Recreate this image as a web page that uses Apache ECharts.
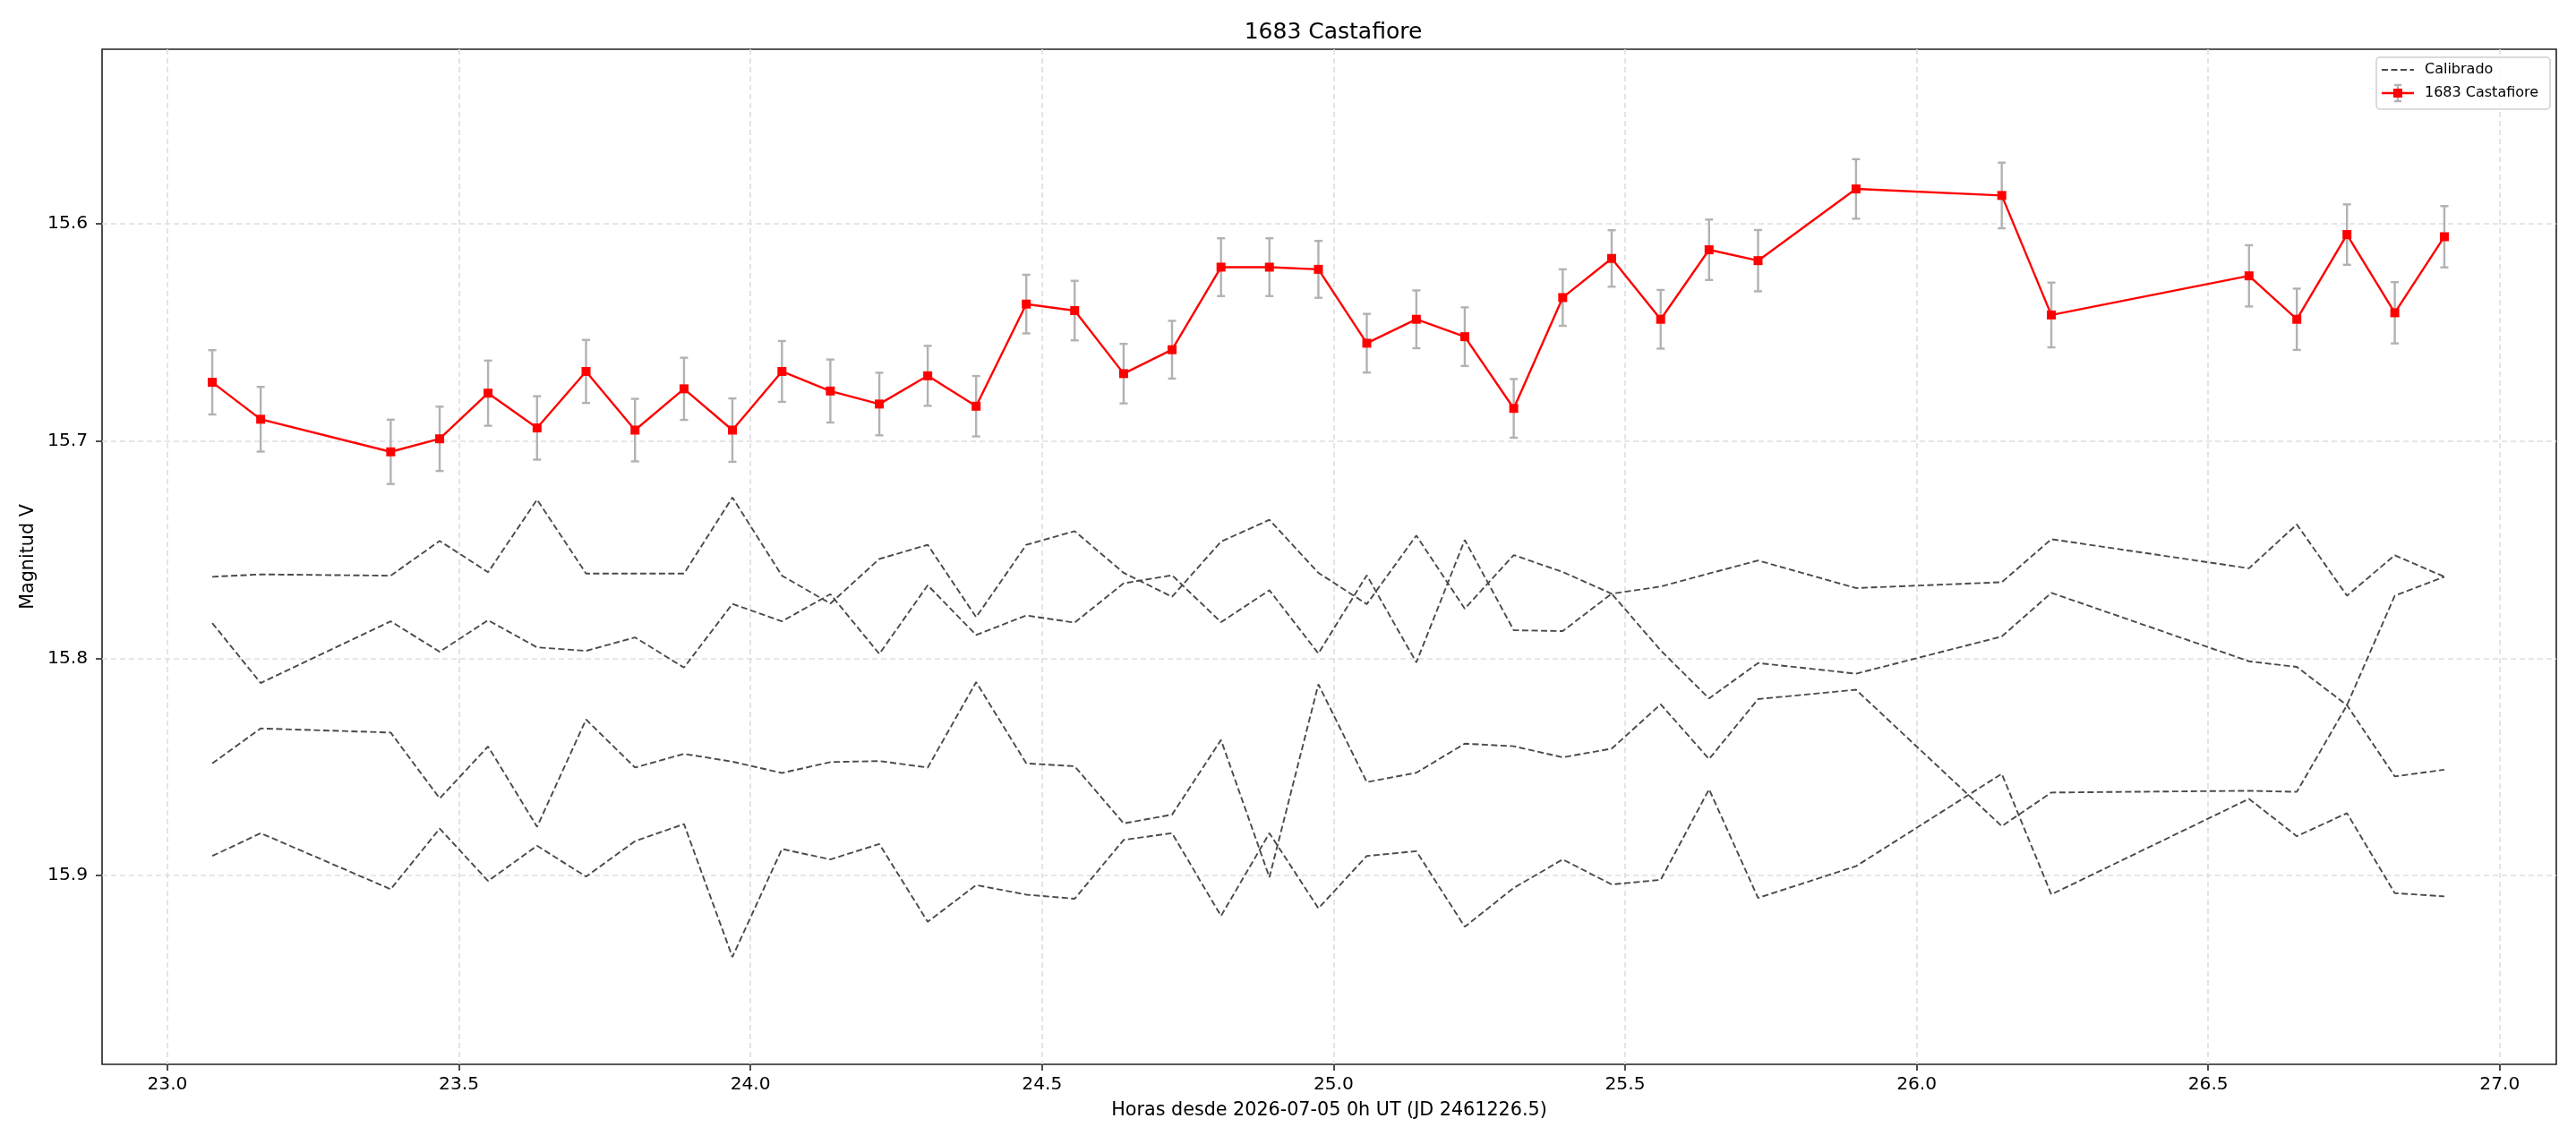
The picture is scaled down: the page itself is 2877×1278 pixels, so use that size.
<!DOCTYPE html>
<html>
<head>
<meta charset="utf-8">
<title>1683 Castafiore</title>
<script src="https://cdn.jsdelivr.net/npm/echarts@6/dist/echarts.min.js"></script>
<style>
  html, body { margin: 0; padding: 0; background: #fff; }
  #chart { width: 2877px; height: 1278px; }
</style>
</head>
<body>
<div id="chart"></div>
<script>
// hours since 2026-07-05 0h UT
const hours = [23.077, 23.160, 23.383, 23.467, 23.550, 23.634, 23.718, 23.802, 23.886, 23.969,
  24.054, 24.137, 24.221, 24.304, 24.387, 24.473, 24.556, 24.640, 24.723, 24.807,
  24.890, 24.974, 25.057, 25.142, 25.225, 25.309, 25.393, 25.477, 25.561, 25.644,
  25.728, 25.896, 26.146, 26.231, 26.570, 26.652, 26.738, 26.820, 26.905]

// asteroid magnitude and 1-sigma error
const castafiore = [15.673, 15.690, 15.705, 15.699, 15.678, 15.694, 15.668, 15.695, 15.676, 15.695,
  15.668, 15.677, 15.683, 15.670, 15.684, 15.637, 15.640, 15.669, 15.658, 15.620,
  15.620, 15.621, 15.655, 15.644, 15.652, 15.685, 15.634, 15.616, 15.644, 15.612,
  15.617, 15.584, 15.587, 15.642, 15.624, 15.644, 15.605, 15.641, 15.606]
const castafioreErr = [0.0148, 0.0149, 0.0148, 0.0148, 0.0150, 0.0146, 0.0145, 0.0144, 0.0143, 0.0146,
  0.0140, 0.0145, 0.0144, 0.0138, 0.0139, 0.0135, 0.0137, 0.0137, 0.0133, 0.0133,
  0.0133, 0.0131, 0.0135, 0.0133, 0.0135, 0.0135, 0.0130, 0.0130, 0.0135, 0.0139,
  0.0141, 0.0137, 0.0151, 0.0149, 0.0141, 0.0141, 0.0139, 0.0141, 0.0141]

// comparison stars (calibrated)
const calib1 = [15.7625, 15.7614, 15.7620, 15.7460, 15.7604, 15.7270, 15.7610, 15.7610, 15.7610, 15.7260,
  15.7620, 15.7748, 15.7543, 15.7478, 15.7811, 15.7478, 15.7415, 15.7607, 15.7717, 15.7463,
  15.7363, 15.7607, 15.7751, 15.7435, 15.7772, 15.7525, 15.7603, 15.7703, 15.7670, 15.7610,
  15.7550, 15.7677, 15.7650, 15.7452, 15.7586, 15.7384, 15.7712, 15.7526, 15.7625]
const calib2 = [15.7838, 15.8114, 15.7830, 15.7970, 15.7825, 15.7950, 15.7966, 15.7904, 15.8043, 15.7750,
  15.7830, 15.7705, 15.7980, 15.7664, 15.7893, 15.7803, 15.7836, 15.7655, 15.7618, 15.7834,
  15.7687, 15.7978, 15.7618, 15.8019, 15.7456, 15.7871, 15.7875, 15.7703, 15.7964, 15.8185,
  15.8022, 15.8071, 15.7900, 15.7699, 15.8014, 15.8040, 15.8216, 15.8544, 15.8513]
const calib3 = [15.8484, 15.8323, 15.8342, 15.8645, 15.8406, 15.8776, 15.8282, 15.8503, 15.8440, 15.8476,
  15.8528, 15.8478, 15.8473, 15.8503, 15.8110, 15.8484, 15.8497, 15.8760, 15.8720, 15.8376,
  15.9008, 15.8120, 15.8570, 15.8527, 15.8393, 15.8405, 15.8456, 15.8416, 15.8212, 15.8464,
  15.8188, 15.8145, 15.8773, 15.8618, 15.8610, 15.8615, 15.8216, 15.7712, 15.7625]
const calib4 = [15.8910, 15.8805, 15.9063, 15.8784, 15.9025, 15.8863, 15.9005, 15.8842, 15.8763, 15.9375,
  15.8878, 15.8926, 15.8855, 15.9213, 15.9044, 15.9088, 15.9107, 15.8836, 15.8805, 15.9186,
  15.8805, 15.9151, 15.8910, 15.8888, 15.9236, 15.9057, 15.8926, 15.9041, 15.9020, 15.8603,
  15.9103, 15.8957, 15.8532, 15.9087, 15.8647, 15.8819, 15.8713, 15.9081, 15.9096]

const xTicks = [23.0, 23.5, 24.0, 24.5, 25.0, 25.5, 26.0, 26.5, 27.0]
const yTicks = [15.6, 15.7, 15.8, 15.9]

const FONT = 'DejaVu Sans'
const chart = echarts.init(document.getElementById('chart'))

function pairs(ys) {
  return hours.map((h, i) => [h, ys[i]])
}

// error bar with caps, drawn through the axis scales
function renderErr(params, api) {
  const x = api.value(0), y = api.value(1), e = api.value(2)
  const top = api.coord([x, y - e])
  const bot = api.coord([x, y + e])
  const cw = 4.5
  const st = { stroke: '#b2b2b2', lineWidth: 2.4 }
  return {
    type: 'group',
    children: [
      { type: 'line', shape: { x1: top[0], y1: top[1], x2: bot[0], y2: bot[1] }, style: st },
      { type: 'line', shape: { x1: top[0] - cw, y1: top[1], x2: top[0] + cw, y2: top[1] }, style: st },
      { type: 'line', shape: { x1: bot[0] - cw, y1: bot[1], x2: bot[0] + cw, y2: bot[1] }, style: st }
    ]
  }
}

const calibStyle = { color: '#4a4a4a', width: 1.9, type: [7, 3.5] }
const calibSeries = [calib1, calib2, calib3, calib4].map(c => ({
  name: 'Calibrado',
  type: 'line',
  data: pairs(c),
  symbol: 'none',
  lineStyle: calibStyle,
  itemStyle: { color: '#4a4a4a' },
  z: 2,
  silent: true
}))

// legend box drawn by hand (dashed sample, red marker with error bar)
const lgX = 2654, lgY = 64
const legendGraphic = [
  { type: 'rect', shape: { x: lgX, y: lgY, width: 194, height: 58, r: 4 },
    style: { fill: 'rgba(255,255,255,0.8)', stroke: '#d0d0d0', lineWidth: 1.5 }, z: 20 },
  { type: 'line', shape: { x1: lgX + 6, y1: lgY + 14, x2: lgX + 42, y2: lgY + 14 },
    style: { stroke: '#4a4a4a', lineWidth: 1.9, lineDash: [7, 3.5] }, z: 21 },
  { type: 'text', x: lgX + 54, y: lgY + 14,
    style: { text: 'Calibrado', font: '16px "DejaVu Sans"', fill: '#000', verticalAlign: 'middle' }, z: 21 },
  { type: 'line', shape: { x1: lgX + 6, y1: lgY + 40, x2: lgX + 42, y2: lgY + 40 },
    style: { stroke: '#ff0000', lineWidth: 2.4 }, z: 21 },
  { type: 'line', shape: { x1: lgX + 24, y1: lgY + 31, x2: lgX + 24, y2: lgY + 49 },
    style: { stroke: '#b2b2b2', lineWidth: 2.4 }, z: 21 },
  { type: 'line', shape: { x1: lgX + 20, y1: lgY + 31, x2: lgX + 28, y2: lgY + 31 },
    style: { stroke: '#b2b2b2', lineWidth: 2.4 }, z: 21 },
  { type: 'line', shape: { x1: lgX + 20, y1: lgY + 49, x2: lgX + 28, y2: lgY + 49 },
    style: { stroke: '#b2b2b2', lineWidth: 2.4 }, z: 21 },
  { type: 'rect', shape: { x: lgX + 19, y: lgY + 35, width: 10, height: 10 },
    style: { fill: '#ff0000' }, z: 22 },
  { type: 'text', x: lgX + 54, y: lgY + 40,
    style: { text: '1683 Castafiore', font: '16px "DejaVu Sans"', fill: '#000', verticalAlign: 'middle' }, z: 21 }
]

const option = {
  animation: false,
  backgroundColor: '#ffffff',
  textStyle: { fontFamily: FONT },
  title: {
    text: '1683 Castafiore',
    left: 1484,
    top: 19,
    textAlign: 'center',
    textStyle: { fontFamily: FONT, fontSize: 25, fontWeight: 'normal', color: '#000' }
  },
  grid: {
    left: 114, right: 22, top: 55, bottom: 89,
    show: true, borderColor: '#222', borderWidth: 1.6,
    outerBoundsMode: 'none'
  },
  xAxis: {
    type: 'value',
    min: 22.888,
    max: 27.097,
    name: 'Horas desde 2026-07-05 0h UT (JD 2461226.5)',
    nameLocation: 'middle',
    nameGap: 41,
    nameTextStyle: { fontFamily: FONT, fontSize: 20.7, color: '#000' },
    axisLine: { show: false },
    axisTick: { show: true, length: 7, inside: false, customValues: xTicks,
      lineStyle: { color: '#222', width: 1.6 } },
    axisLabel: { customValues: xTicks, margin: 13, fontFamily: FONT, fontSize: 20.2, color: '#000',
      formatter: v => v.toFixed(1) },
    splitLine: { show: true, lineStyle: { color: '#dedede', width: 1.6, type: [6, 4] } }
  },
  yAxis: {
    type: 'value',
    inverse: true,
    min: 15.5197,
    max: 15.9869,
    name: 'Magnitud V',
    nameLocation: 'middle',
    nameRotate: 90,
    nameGap: 72,
    nameTextStyle: { fontFamily: FONT, fontSize: 20.7, color: '#000' },
    axisLine: { show: false },
    axisTick: { show: true, length: 7, customValues: yTicks,
      lineStyle: { color: '#222', width: 1.6 } },
    axisLabel: { customValues: yTicks, margin: 16, fontFamily: FONT, fontSize: 20.2, color: '#000',
      formatter: v => v.toFixed(1) },
    splitLine: { show: true, lineStyle: { color: '#dedede', width: 1.6, type: [6, 4] } }
  },
  graphic: legendGraphic,
  series: [
    ...calibSeries,
    {
      name: 'errbar',
      type: 'custom',
      renderItem: renderErr,
      data: hours.map((h, i) => [h, castafiore[i], castafioreErr[i]]),
      encode: { x: 0, y: 1 },
      z: 3,
      silent: true
    },
    {
      name: '1683 Castafiore',
      type: 'line',
      data: pairs(castafiore),
      symbol: 'rect',
      symbolSize: 10,
      lineStyle: { color: '#ff0000', width: 2.4 },
      itemStyle: { color: '#ff0000' },
      z: 4,
      silent: true
    }
  ]
}

chart.setOption(option)
</script>
</body>
</html>
